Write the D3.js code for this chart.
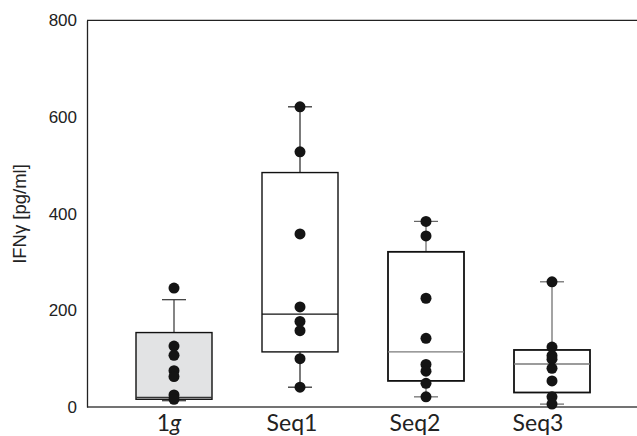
<!DOCTYPE html>
<html>
<head>
<meta charset="utf-8">
<script src="https://cdn.jsdelivr.net/npm/d3@7"></script>
<style>
  body { margin: 0; background: #fff; }
  svg { display: block; }
  .arial { font-family: 'Liberation Sans', Arial, Helvetica, sans-serif; }
  .cal { font-family: Lato, 'Open Sans', sans-serif; }
</style>
</head>
<body>
<script>
// values
var categories = ['1g', 'Seq1', 'Seq2', 'Seq3'];
var q1 = [16, 114, 54, 30];
var median = [20, 192, 114, 89];
var q3 = [154, 485, 321, 118];
var whiskerLow = [13, 41, 21, 6];
var whiskerHigh = [222, 621, 384, 259];
var points = [
    [246, 126, 107, 75, 63, 25, 16],
    [621, 528, 358, 207, 177, 158, 100, 41],
    [384, 354, 225, 142, 88, 74, 49, 21],
    [259, 124, 106, 99, 80, 54, 21, 6]
];
var yTicks = [0, 200, 400, 600, 800];

var width = 637,
    height = 436;

var svg = d3.select('body')
    .append('svg')
    .attr('width', width)
    .attr('height', height);

var y = d3.scaleLinear()
    .domain([0, 800])
    .range([407, 20.3]);

var x = d3.scalePoint()
    .domain(categories)
    .range([174, 552]);

// the category labels sit a little left of the boxes in the original
var xLabel = d3.scalePoint()
    .domain(categories)
    .range([169, 538]);

var boxW = 76,
    capW = 24;

var boxFill = ['#e2e3e4', 'none', 'none', 'none'];
var medianColor = ['#333', '#111', '#7a7a7a', '#7a7a7a'];
var whiskerColor = ['#333', '#222', '#666', '#666'];

// frame
svg.append('line')
    .attr('x1', 87).attr('x2', width)
    .attr('y1', y(800)).attr('y2', y(800))
    .attr('stroke', '#222').attr('stroke-width', 1.3);
svg.append('line')
    .attr('x1', 87).attr('x2', width)
    .attr('y1', y(0)).attr('y2', y(0))
    .attr('stroke', '#444').attr('stroke-width', 1.3);

var yAxis = svg.append('g')
    .attr('transform', 'translate(87,0)')
    .call(d3.axisLeft(y).tickValues(yTicks).tickSize(0).tickPadding(10));
yAxis.attr('font-family', null).attr('font-size', null);
yAxis.select('.domain').attr('stroke', '#222').attr('stroke-width', 1.3);
yAxis.selectAll('text')
    .attr('class', 'arial')
    .style('font-size', '17px')
    .attr('fill', '#222');

svg.append('text')
    .attr('class', 'arial')
    .attr('transform', 'translate(26,214) rotate(-90)')
    .attr('text-anchor', 'middle')
    .style('font-size', '18.5px')
    .attr('fill', '#222')
    .text('IFNγ [pg/ml]');

svg.selectAll('.xlabel')
    .data(categories)
    .enter()
    .append('text')
    .attr('class', 'xlabel cal')
    .attr('x', function(d) { return xLabel(d); })
    .attr('y', 431)
    .attr('text-anchor', 'middle')
    .style('font-size', '23px')
    .attr('fill', '#222')
    .each(function(d) {
        var t = d3.select(this);
        if (d === '1g') {
            t.append('tspan').text('1');
            t.append('tspan').style('font-style', 'italic').text('g');
        } else {
            t.text(d);
        }
    });

var groups = svg.selectAll('.box')
    .data(categories)
    .enter()
    .append('g')
    .attr('class', 'box');

// whiskers, box, median
groups.each(function(d, i) {
    var g = d3.select(this),
        cx = x(d);
    [[q3[i], whiskerHigh[i]], [q1[i], whiskerLow[i]]].forEach(function(seg) {
        g.append('line')
            .attr('x1', cx).attr('x2', cx)
            .attr('y1', y(seg[0])).attr('y2', y(seg[1]))
            .attr('stroke', whiskerColor[i]).attr('stroke-width', 1.2);
        g.append('line')
            .attr('x1', cx - capW / 2).attr('x2', cx + capW / 2)
            .attr('y1', y(seg[1])).attr('y2', y(seg[1]))
            .attr('stroke', whiskerColor[i]).attr('stroke-width', 1.2);
    });
    g.append('rect')
        .attr('x', cx - boxW / 2)
        .attr('y', y(q3[i]))
        .attr('width', boxW)
        .attr('height', y(q1[i]) - y(q3[i]))
        .attr('fill', boxFill[i])
        .attr('stroke', '#111')
        .attr('stroke-width', i > 1 ? 1.8 : 1.4);
    g.append('line')
        .attr('x1', cx - boxW / 2).attr('x2', cx + boxW / 2)
        .attr('y1', y(median[i])).attr('y2', y(median[i]))
        .attr('stroke', medianColor[i]).attr('stroke-width', 1.3);
});

// data points
groups.each(function(d, i) {
    d3.select(this).selectAll('circle')
        .data(points[i])
        .enter()
        .append('circle')
        .attr('cx', x(d))
        .attr('cy', function(v) { return y(v); })
        .attr('r', 5.5)
        .attr('fill', '#141414');
});
</script>
</body>
</html>
